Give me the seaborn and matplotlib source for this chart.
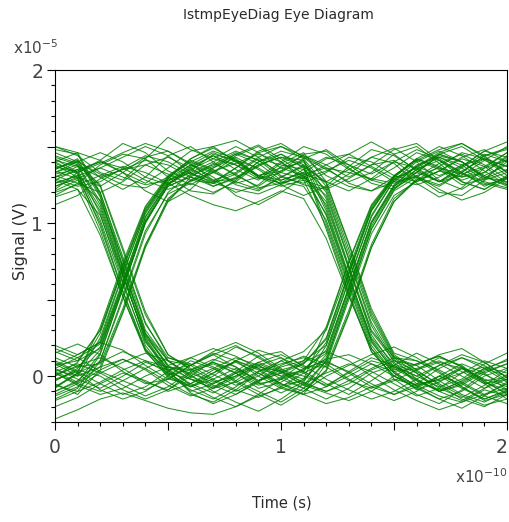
import matplotlib
matplotlib.use("Agg")
import matplotlib.pyplot as plt
from matplotlib.ticker import FixedLocator, MultipleLocator, FuncFormatter
from matplotlib.transforms import ScaledTranslation
import seaborn as sns
import pandas as pd

# ---- data (time in units of 1e-10 s, signal in units of 1e-5 V) ----
time_e10 = [0.0, 0.1, 0.2, 0.3, 0.4, 0.5, 0.6, 0.7, 0.8, 0.9, 1.0,
            1.1, 1.2, 1.3, 1.4, 1.5, 1.6, 1.7, 1.8, 1.9, 2.0]

traces_high_high_high = [
    [1.35, 1.41, 1.30, 1.22, 1.30, 1.44, 1.50, 1.40, 1.31, 1.24, 1.34, 1.45, 1.47, 1.36, 1.26, 1.22, 1.33, 1.44, 1.40, 1.29, 1.35],
    [1.18, 1.26, 1.38, 1.45, 1.42, 1.30, 1.21, 1.19, 1.28, 1.40, 1.47, 1.43, 1.35, 1.27, 1.33, 1.45, 1.50, 1.39, 1.27, 1.22, 1.31],
    [1.50, 1.44, 1.33, 1.28, 1.42, 1.56, 1.48, 1.42, 1.50, 1.43, 1.31, 1.25, 1.22, 1.29, 1.38, 1.41, 1.30, 1.20, 1.18, 1.28, 1.42],
    [1.30, 1.34, 1.40, 1.33, 1.21, 1.14, 1.22, 1.36, 1.43, 1.35, 1.25, 1.18, 1.24, 1.37, 1.48, 1.44, 1.35, 1.27, 1.37, 1.47, 1.43],
    [1.42, 1.33, 1.41, 1.52, 1.46, 1.34, 1.28, 1.26, 1.36, 1.47, 1.52, 1.43, 1.31, 1.24, 1.21, 1.30, 1.42, 1.50, 1.44, 1.34, 1.25],
    [1.12, 1.18, 1.29, 1.35, 1.38, 1.32, 1.25, 1.33, 1.44, 1.50, 1.40, 1.28, 1.23, 1.32, 1.43, 1.39, 1.26, 1.17, 1.23, 1.36, 1.46],
    [1.38, 1.30, 1.24, 1.33, 1.43, 1.47, 1.39, 1.28, 1.20, 1.25, 1.37, 1.44, 1.38, 1.30, 1.38, 1.48, 1.52, 1.41, 1.30, 1.33, 1.43],
    [1.26, 1.31, 1.36, 1.30, 1.25, 1.28, 1.35, 1.42, 1.38, 1.31, 1.28, 1.33, 1.42, 1.45, 1.37, 1.29, 1.25, 1.30, 1.38, 1.42, 1.37],
    [1.29, 1.24, 1.27, 1.36, 1.44, 1.40, 1.32, 1.38, 1.46, 1.41, 1.33, 1.29, 1.34, 1.41, 1.36, 1.27, 1.30, 1.39, 1.45, 1.38, 1.29],
]
traces_high_high_low = [
    [1.33, 1.40, 1.46, 1.40, 1.30, 1.25, 1.34, 1.45, 1.41, 1.30, 1.24, 1.28, 0.98, 0.55, 0.16, 0.00, -0.08, 0.00, 0.08, 0.02, -0.09],
    [1.24, 1.29, 1.36, 1.43, 1.50, 1.44, 1.33, 1.26, 1.32, 1.42, 1.38, 1.35, 1.22, 0.80, 0.38, 0.12, 0.02, -0.08, -0.14, -0.06, 0.04],
    [1.46, 1.40, 1.32, 1.25, 1.23, 1.30, 1.40, 1.47, 1.42, 1.31, 1.36, 1.40, 1.16, 0.72, 0.30, 0.12, 0.10, 0.04, -0.04, -0.12, -0.08],
    [1.31, 1.26, 1.20, 1.27, 1.38, 1.43, 1.36, 1.27, 1.29, 1.37, 1.45, 1.36, 1.00, 0.58, 0.18, -0.02, -0.12, -0.18, -0.09, 0.02, 0.08],
    [1.40, 1.46, 1.41, 1.33, 1.26, 1.36, 1.47, 1.50, 1.40, 1.30, 1.26, 1.31, 1.12, 0.70, 0.29, 0.10, 0.07, 0.14, 0.18, 0.09, -0.01],
    [1.20, 1.25, 1.31, 1.37, 1.33, 1.26, 1.18, 1.12, 1.08, 1.14, 1.21, 1.16, 0.90, 0.52, 0.18, 0.02, -0.06, -0.02, 0.06, -0.03, -0.12],
    [1.37, 1.33, 1.39, 1.46, 1.52, 1.47, 1.38, 1.33, 1.27, 1.22, 1.30, 1.38, 1.26, 0.86, 0.42, 0.14, 0.04, -0.06, -0.15, -0.20, -0.12],
    [1.28, 1.35, 1.40, 1.36, 1.28, 1.22, 1.27, 1.34, 1.39, 1.45, 1.40, 1.30, 1.06, 0.64, 0.23, 0.03, 0.05, 0.10, 0.03, -0.05, -0.02],
    [1.41, 1.37, 1.30, 1.35, 1.41, 1.38, 1.30, 1.24, 1.30, 1.38, 1.43, 1.41, 1.20, 0.77, 0.35, 0.11, -0.02, -0.10, -0.06, 0.03, 0.08],
]
traces_high_low_high = [
    [1.34, 1.29, 0.95, 0.52, 0.16, 0.00, -0.07, 0.02, 0.10, 0.04, -0.06, -0.03, 0.14, 0.57, 1.00, 1.24, 1.35, 1.43, 1.38, 1.28, 1.33],
    [1.43, 1.38, 1.24, 0.82, 0.40, 0.14, 0.04, -0.06, -0.12, -0.04, 0.06, 0.10, 0.32, 0.75, 1.12, 1.31, 1.41, 1.35, 1.25, 1.29, 1.40],
    [1.26, 1.31, 1.08, 0.66, 0.24, 0.03, -0.10, -0.05, 0.03, 0.13, 0.16, 0.06, 0.06, 0.43, 0.86, 1.16, 1.28, 1.37, 1.46, 1.42, 1.31],
    [1.48, 1.45, 1.18, 0.72, 0.28, 0.10, 0.07, 0.14, 0.06, -0.04, -0.11, -0.04, 0.20, 0.63, 1.05, 1.28, 1.40, 1.47, 1.40, 1.31, 1.24],
    [1.30, 1.37, 1.12, 0.68, 0.23, 0.02, -0.02, -0.08, -0.01, 0.08, 0.02, -0.06, 0.10, 0.53, 0.96, 1.21, 1.30, 1.25, 1.33, 1.44, 1.49],
    [1.39, 1.33, 1.02, 0.60, 0.22, 0.05, -0.06, -0.14, -0.20, -0.12, -0.02, 0.03, 0.22, 0.66, 1.08, 1.29, 1.36, 1.45, 1.50, 1.41, 1.34],
    [1.21, 1.28, 1.15, 0.76, 0.34, 0.12, 0.08, 0.01, -0.06, 0.00, 0.10, 0.16, 0.30, 0.70, 1.10, 1.31, 1.42, 1.36, 1.27, 1.22, 1.30],
    [1.36, 1.40, 1.20, 0.78, 0.35, 0.10, -0.01, 0.05, 0.12, 0.07, -0.02, -0.08, 0.03, 0.40, 0.84, 1.14, 1.28, 1.34, 1.30, 1.36, 1.41],
    [1.32, 1.35, 1.06, 0.62, 0.20, 0.01, 0.04, 0.11, 0.06, -0.03, 0.02, 0.08, 0.24, 0.68, 1.09, 1.30, 1.33, 1.27, 1.36, 1.45, 1.40],
]
traces_high_low_low = [
    [1.33, 1.38, 1.14, 0.70, 0.27, 0.06, 0.04, 0.09, 0.02, -0.08, -0.04, 0.05, 0.10, 0.02, -0.07, -0.12, -0.05, 0.05, 0.12, 0.07, -0.03],
    [1.44, 1.39, 1.25, 0.84, 0.42, 0.14, 0.05, -0.03, -0.10, -0.03, 0.07, 0.13, 0.08, -0.02, -0.10, -0.16, -0.10, 0.00, -0.05, -0.13, -0.18],
    [1.24, 1.30, 1.00, 0.56, 0.18, 0.01, -0.09, -0.15, -0.07, 0.03, 0.10, 0.03, -0.05, -0.12, -0.03, 0.07, 0.15, 0.08, 0.00, -0.08, -0.02],
    [1.40, 1.32, 0.98, 0.55, 0.17, -0.01, -0.07, 0.00, 0.10, 0.17, 0.12, 0.02, -0.07, 0.00, 0.08, 0.03, -0.07, -0.15, -0.10, 0.00, 0.05],
    [1.28, 1.22, 0.92, 0.52, 0.17, 0.04, 0.07, 0.16, 0.22, 0.15, 0.05, -0.05, -0.10, -0.03, 0.05, 0.12, 0.07, -0.03, -0.12, -0.17, -0.10],
    [1.50, 1.46, 1.20, 0.75, 0.30, 0.10, 0.01, -0.10, -0.17, -0.23, -0.15, -0.05, 0.02, 0.08, 0.03, -0.05, -0.13, -0.08, 0.02, 0.10, 0.05],
    [1.35, 1.42, 1.17, 0.71, 0.28, 0.07, -0.02, -0.05, 0.02, 0.07, 0.00, -0.08, -0.15, -0.08, 0.02, 0.07, 0.00, -0.07, -0.02, 0.08, 0.15],
    [1.17, 1.22, 1.05, 0.65, 0.26, 0.07, 0.12, 0.18, 0.13, 0.05, 0.00, 0.04, 0.11, 0.14, 0.08, 0.00, -0.06, -0.02, 0.05, 0.01, -0.06],
    [1.22, 1.33, 1.10, 0.67, 0.25, 0.04, -0.11, -0.18, -0.12, -0.03, 0.04, 0.00, -0.06, 0.02, 0.10, 0.06, -0.02, -0.10, -0.16, -0.08, 0.01],
]
traces_low_high_high = [
    [0.03, -0.04, 0.15, 0.57, 1.00, 1.25, 1.36, 1.44, 1.38, 1.29, 1.33, 1.42, 1.48, 1.38, 1.28, 1.24, 1.33, 1.45, 1.40, 1.30, 1.25],
    [-0.08, 0.02, 0.32, 0.74, 1.11, 1.31, 1.41, 1.35, 1.26, 1.30, 1.40, 1.50, 1.45, 1.35, 1.28, 1.36, 1.46, 1.41, 1.32, 1.37, 1.46],
    [0.12, 0.06, 0.08, 0.44, 0.86, 1.15, 1.28, 1.36, 1.45, 1.51, 1.42, 1.32, 1.27, 1.35, 1.43, 1.49, 1.40, 1.28, 1.22, 1.31, 1.38],
    [-0.16, -0.10, 0.10, 0.52, 0.95, 1.19, 1.26, 1.20, 1.27, 1.38, 1.43, 1.37, 1.27, 1.21, 1.29, 1.40, 1.36, 1.27, 1.31, 1.41, 1.50],
    [0.00, 0.09, 0.30, 0.70, 1.08, 1.30, 1.42, 1.49, 1.41, 1.31, 1.26, 1.30, 1.38, 1.45, 1.53, 1.45, 1.34, 1.27, 1.34, 1.42, 1.37],
    [0.20, 0.14, 0.22, 0.62, 1.04, 1.26, 1.35, 1.28, 1.33, 1.43, 1.50, 1.44, 1.36, 1.26, 1.21, 1.27, 1.37, 1.46, 1.52, 1.44, 1.33],
    [-0.05, -0.12, 0.04, 0.41, 0.84, 1.14, 1.30, 1.39, 1.32, 1.23, 1.26, 1.35, 1.43, 1.38, 1.32, 1.40, 1.48, 1.42, 1.33, 1.25, 1.29],
    [0.07, 0.10, 0.18, 0.58, 1.01, 1.24, 1.30, 1.26, 1.22, 1.19, 1.25, 1.32, 1.36, 1.33, 1.29, 1.26, 1.31, 1.36, 1.32, 1.27, 1.23],
    [0.04, 0.00, 0.25, 0.67, 1.06, 1.28, 1.33, 1.40, 1.47, 1.41, 1.30, 1.26, 1.33, 1.43, 1.40, 1.31, 1.27, 1.34, 1.43, 1.48, 1.40],
]
traces_low_high_low = [
    [0.01, 0.06, 0.19, 0.61, 1.04, 1.27, 1.38, 1.46, 1.40, 1.31, 1.34, 1.41, 1.10, 0.66, 0.24, 0.05, -0.03, -0.09, -0.04, 0.05, 0.00],
    [-0.10, -0.03, 0.10, 0.50, 0.93, 1.20, 1.32, 1.27, 1.36, 1.46, 1.50, 1.42, 1.24, 0.83, 0.40, 0.13, 0.04, 0.12, 0.07, -0.04, -0.11],
    [0.16, 0.10, 0.30, 0.72, 1.10, 1.30, 1.40, 1.34, 1.25, 1.21, 1.30, 1.37, 0.96, 0.53, 0.16, 0.00, -0.08, -0.15, -0.21, -0.13, -0.04],
    [-0.03, 0.05, 0.23, 0.66, 1.07, 1.29, 1.42, 1.50, 1.54, 1.46, 1.36, 1.31, 1.14, 0.71, 0.27, 0.06, 0.00, 0.07, 0.14, 0.09, -0.01],
    [0.08, 0.00, 0.06, 0.42, 0.85, 1.16, 1.28, 1.33, 1.41, 1.36, 1.27, 1.24, 1.02, 0.60, 0.20, 0.02, -0.09, -0.04, 0.05, -0.05, -0.15],
    [-0.15, -0.08, 0.14, 0.57, 1.00, 1.25, 1.37, 1.44, 1.35, 1.28, 1.39, 1.46, 1.27, 0.87, 0.44, 0.15, 0.10, 0.02, -0.07, -0.16, -0.12],
    [0.05, 0.12, 0.21, 0.60, 1.02, 1.26, 1.33, 1.24, 1.29, 1.40, 1.45, 1.38, 1.08, 0.65, 0.25, 0.08, 0.02, -0.10, -0.05, 0.04, 0.11],
    [-0.02, 0.03, 0.28, 0.70, 1.09, 1.29, 1.38, 1.30, 1.18, 1.12, 1.20, 1.30, 1.18, 0.76, 0.33, 0.09, -0.05, -0.03, 0.02, 0.06, 0.02],
    [-0.07, 0.01, 0.17, 0.59, 1.01, 1.24, 1.31, 1.37, 1.45, 1.39, 1.28, 1.33, 1.05, 0.62, 0.22, 0.04, 0.08, 0.13, 0.06, -0.04, -0.09],
]
traces_low_low_high = [
    [0.05, -0.02, -0.08, 0.00, 0.09, 0.04, -0.05, -0.11, -0.03, 0.07, 0.12, 0.05, 0.15, 0.58, 1.01, 1.25, 1.37, 1.45, 1.40, 1.30, 1.27],
    [-0.12, -0.05, 0.04, 0.11, 0.05, -0.04, -0.12, -0.17, -0.09, 0.02, -0.05, -0.10, 0.04, 0.41, 0.84, 1.14, 1.29, 1.24, 1.33, 1.44, 1.48],
    [0.15, 0.21, 0.14, 0.03, -0.05, -0.02, 0.07, 0.15, 0.10, 0.00, -0.08, -0.02, 0.31, 0.74, 1.11, 1.30, 1.41, 1.48, 1.52, 1.43, 1.33],
    [-0.20, -0.14, -0.05, 0.02, -0.03, -0.10, -0.05, 0.04, 0.09, 0.02, -0.07, -0.12, 0.08, 0.50, 0.93, 1.18, 1.27, 1.34, 1.42, 1.37, 1.26],
    [0.00, 0.07, 0.12, 0.05, -0.04, -0.09, 0.00, 0.10, 0.19, 0.13, 0.04, 0.08, 0.25, 0.67, 1.08, 1.30, 1.42, 1.37, 1.28, 1.33, 1.44],
    [0.10, 0.03, -0.05, -0.12, -0.07, 0.03, 0.12, 0.06, -0.03, -0.10, -0.17, -0.08, 0.10, 0.52, 0.96, 1.22, 1.35, 1.41, 1.33, 1.24, 1.30],
    [-0.07, 0.02, 0.09, 0.16, 0.10, 0.02, -0.07, -0.02, 0.05, -0.03, 0.02, 0.10, 0.20, 0.62, 1.04, 1.28, 1.37, 1.31, 1.37, 1.47, 1.53],
    [0.02, -0.06, -0.12, -0.08, 0.00, 0.06, 0.02, -0.04, 0.00, 0.06, 0.03, -0.02, 0.12, 0.55, 0.98, 1.23, 1.31, 1.22, 1.15, 1.20, 1.29],
    [0.03, 0.08, 0.02, -0.06, -0.13, -0.07, 0.03, 0.08, 0.02, -0.06, -0.01, 0.04, 0.17, 0.58, 1.00, 1.24, 1.38, 1.43, 1.36, 1.26, 1.22],
]
traces_low_low_low = [
    [0.02, -0.05, -0.10, -0.03, 0.05, 0.12, 0.07, -0.02, -0.09, -0.14, -0.07, 0.02, 0.09, 0.03, -0.05, -0.12, -0.07, 0.00, -0.08, -0.15, -0.10],
    [-0.13, -0.07, 0.02, 0.09, 0.15, 0.10, 0.00, -0.07, 0.00, 0.09, 0.14, 0.07, -0.02, -0.09, -0.15, -0.10, -0.02, 0.07, 0.12, 0.05, -0.04],
    [0.18, 0.12, 0.03, -0.03, -0.09, -0.02, 0.07, 0.14, 0.20, 0.12, 0.03, -0.04, -0.10, -0.05, 0.04, 0.10, 0.03, -0.05, -0.13, -0.19, -0.15],
    [-0.28, -0.22, -0.15, -0.11, -0.16, -0.21, -0.24, -0.25, -0.20, -0.13, -0.08, -0.12, -0.18, -0.14, -0.07, -0.02, -0.06, -0.13, -0.17, -0.12, -0.05],
    [0.07, 0.14, 0.22, 0.17, 0.07, -0.02, -0.05, 0.02, 0.10, 0.05, -0.05, -0.12, -0.07, 0.03, 0.12, 0.07, -0.03, -0.10, -0.03, 0.05, 0.10],
    [-0.03, 0.04, 0.00, -0.09, -0.15, -0.09, 0.02, 0.09, 0.04, -0.05, -0.02, 0.09, 0.16, 0.10, 0.00, -0.09, -0.16, -0.22, -0.17, -0.09, -0.13],
    [0.09, 0.02, -0.09, -0.15, -0.10, 0.00, 0.10, 0.05, -0.04, -0.12, -0.19, -0.10, 0.00, 0.07, 0.14, 0.19, 0.12, 0.03, -0.07, -0.15, -0.09],
    [-0.06, -0.10, -0.04, 0.04, 0.10, 0.06, -0.02, -0.08, -0.04, 0.03, 0.08, 0.12, 0.06, -0.03, -0.08, -0.03, 0.04, 0.09, 0.05, -0.02, -0.07],
    [-0.10, -0.04, 0.06, 0.11, 0.04, -0.06, -0.13, -0.08, 0.02, 0.09, 0.03, -0.06, -0.11, -0.16, -0.10, 0.00, 0.08, 0.13, 0.06, -0.03, -0.01],
]

major_ticks = [0, 0.5, 1, 1.5, 2]
y_ticks_labeled = [0, 1, 2]
x_ticks_labeled = [0, 1, 2]
title_text = "IstmpEyeDiag Eye Diagram"
x_label = "Time (s)"
y_label = "Signal (V)"
x_exponent = "x10$\\mathregular{^{-10}}$"
y_exponent = "x10$\\mathregular{^{-5}}$"

# ---- build long-form table ----
all_traces = (traces_high_high_high + traces_high_high_low + traces_high_low_high +
              traces_high_low_low + traces_low_high_high + traces_low_high_low +
              traces_low_low_high + traces_low_low_low)
rows = []
for k, tr in enumerate(all_traces):
    for t, v in zip(time_e10, tr):
        rows.append({"time": t, "signal": v, "trace": k})
df = pd.DataFrame(rows)

# ---- style ----
sns.set_theme(style="white")
plt.rcParams["font.family"] = ["DejaVu Sans"]
text_color = "#2a2a2a"

W, H = 510, 522
fig = plt.figure(figsize=(W / 100, H / 100), dpi=100)
ax = fig.add_axes([55 / W, 1 - 422 / H, (507 - 55) / W, (422 - 70) / H])

sns.lineplot(data=df, x="time", y="signal", units="trace", estimator=None,
             color="#008000", linewidth=0.75, alpha=0.85, legend=False, ax=ax,
             sort=True)

ax.set_xlim(0, 2)
ax.set_ylim(-0.3, 2)
ax.xaxis.set_major_locator(FixedLocator(major_ticks))
ax.xaxis.set_minor_locator(MultipleLocator(0.1))
ax.yaxis.set_major_locator(FixedLocator([0, 0.5, 1, 1.5, 2]))
ax.yaxis.set_minor_locator(MultipleLocator(0.1))

def int_only(ticks):
    def f(v, pos):
        for t in ticks:
            if abs(v - t) < 1e-6:
                return f"{t:g}"
        return ""
    return f

ax.xaxis.set_major_formatter(FuncFormatter(int_only(x_ticks_labeled)))
ax.yaxis.set_major_formatter(FuncFormatter(int_only(y_ticks_labeled)))

ax.tick_params(axis="both", which="both", direction="out", color="black",
               bottom=True, left=True, top=False, right=False)
ax.tick_params(axis="both", which="major", length=5.5, width=0.8,
               labelsize=13.5, labelcolor="#444444")
ax.tick_params(axis="x", which="major", pad=6)
ax.tick_params(axis="y", which="major", pad=3)
ax.tick_params(axis="both", which="minor", length=3, width=0.8)

for s in ax.spines.values():
    s.set_color("black")
    s.set_linewidth(0.8)

ax.set_xlabel("")
ax.set_ylabel("")

fig.text(278.5 / W, 1 - 15 / H, title_text, ha="center", va="center",
         fontsize=10, color=text_color)
fig.text(282 / W, 1 - 507 / H, x_label, ha="center", va="baseline",
         fontsize=10.5, color=text_color)
fig.text(21 / W, 1 - 241 / H, y_label, ha="center", va="center",
         rotation=90, fontsize=11.5, color=text_color)
fig.text(13 / W, 1 - 54 / H, y_exponent, ha="left", va="baseline",
         fontsize=11, color="#444444")
fig.text(507 / W, 1 - 483 / H, x_exponent, ha="right", va="baseline",
         fontsize=11, color="#444444")

# nudge the right-most x tick label ("2") inward so it is not clipped
fig.canvas.draw()
for tick in ax.xaxis.get_major_ticks():
    if abs(tick.get_loc() - 2) < 1e-9:
        tick.label1.set_transform(tick.label1.get_transform() +
                                  ScaledTranslation(-5 / 100, 0, fig.dpi_scale_trans))

fig.savefig("out.png", dpi=100)
